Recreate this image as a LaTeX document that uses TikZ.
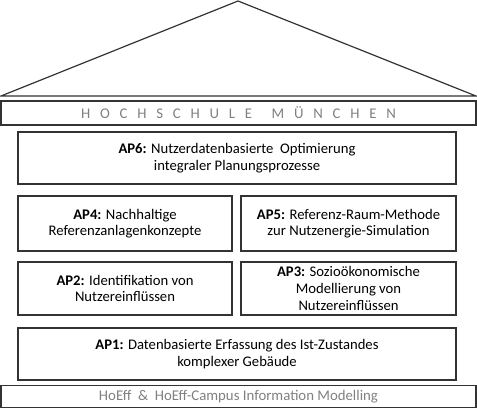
\documentclass[tikz,border=0pt]{standalone}
\usepackage{fontspec}
\setmainfont{Carlito}
\begin{document}
\begin{tikzpicture}[x=0.75pt,y=-0.75pt,
  frame/.style={draw=black!80,line width=0.9pt},
  apbox/.style={frame,fill=white,align=center,font=\fontsize{11}{12.5}\selectfont,inner sep=0pt},
  graytext/.style={text=black!50,font=\fontsize{11.1}{12}\selectfont}]
\newcommand\ls{\hspace{0.66em}}
\useasboundingbox (0,0) rectangle (477,417);
% roof
\coordinate (apex) at (238,1);
\coordinate (rl) at (1,96);
\coordinate (rr) at (476,96);
\draw[frame,line join=miter] (rl) -- (apex) -- (rr) -- cycle;
% top bar
\node[frame,minimum width=475*0.75pt,minimum height=24*0.75pt,inner sep=0pt,graytext] (hm) at (238.5,113)
  {H\ls O\ls C\ls H\ls S\ls C\ls H\ls U\ls L\ls E\ls\ls M\ls Ü\ls N\ls C\ls H\ls E\ls N};
% AP boxes
\node[apbox,minimum width=438*0.75pt,minimum height=52*0.75pt] (ap6) at (237,158)
  {\textbf{AP6:} Nutzerdatenbasierte\ \ Optimierung\\integraler Planungsprozesse};
\node[apbox,minimum width=214*0.75pt,minimum height=55*0.75pt] (ap4) at (125,223.5)
  {\textbf{AP4:} Nachhaltige\\Referenzanlagenkonzepte};
\node[apbox,minimum width=215*0.75pt,minimum height=55*0.75pt] (ap5) at (348.5,223.5)
  {\textbf{AP5:} Referenz-Raum-Methode\\zur Nutzenergie-Simulation};
\node[apbox,minimum width=214*0.75pt,minimum height=53*0.75pt] (ap2) at (125,288.5)
  {\textbf{AP2:} Identifikation von\\Nutzereinflüssen};
\node[apbox,minimum width=215*0.75pt,minimum height=53*0.75pt] (ap3) at (348.5,288.5)
  {\textbf{AP3:} Sozioökonomische\\Modellierung von\\Nutzereinflüssen};
\node[apbox,minimum width=438*0.75pt,minimum height=52*0.75pt] (ap1) at (237,354)
  {\textbf{AP1:} Datenbasierte Erfassung des Ist-Zustandes\\komplexer Gebäude};
% bottom bar
\node[frame,minimum width=475*0.75pt,minimum height=22*0.75pt,inner sep=0pt,graytext] (base) at (238.5,396.5)
  {HoEff \ \& \ HoEff-Campus Information Modelling};
\end{tikzpicture}
\end{document}
